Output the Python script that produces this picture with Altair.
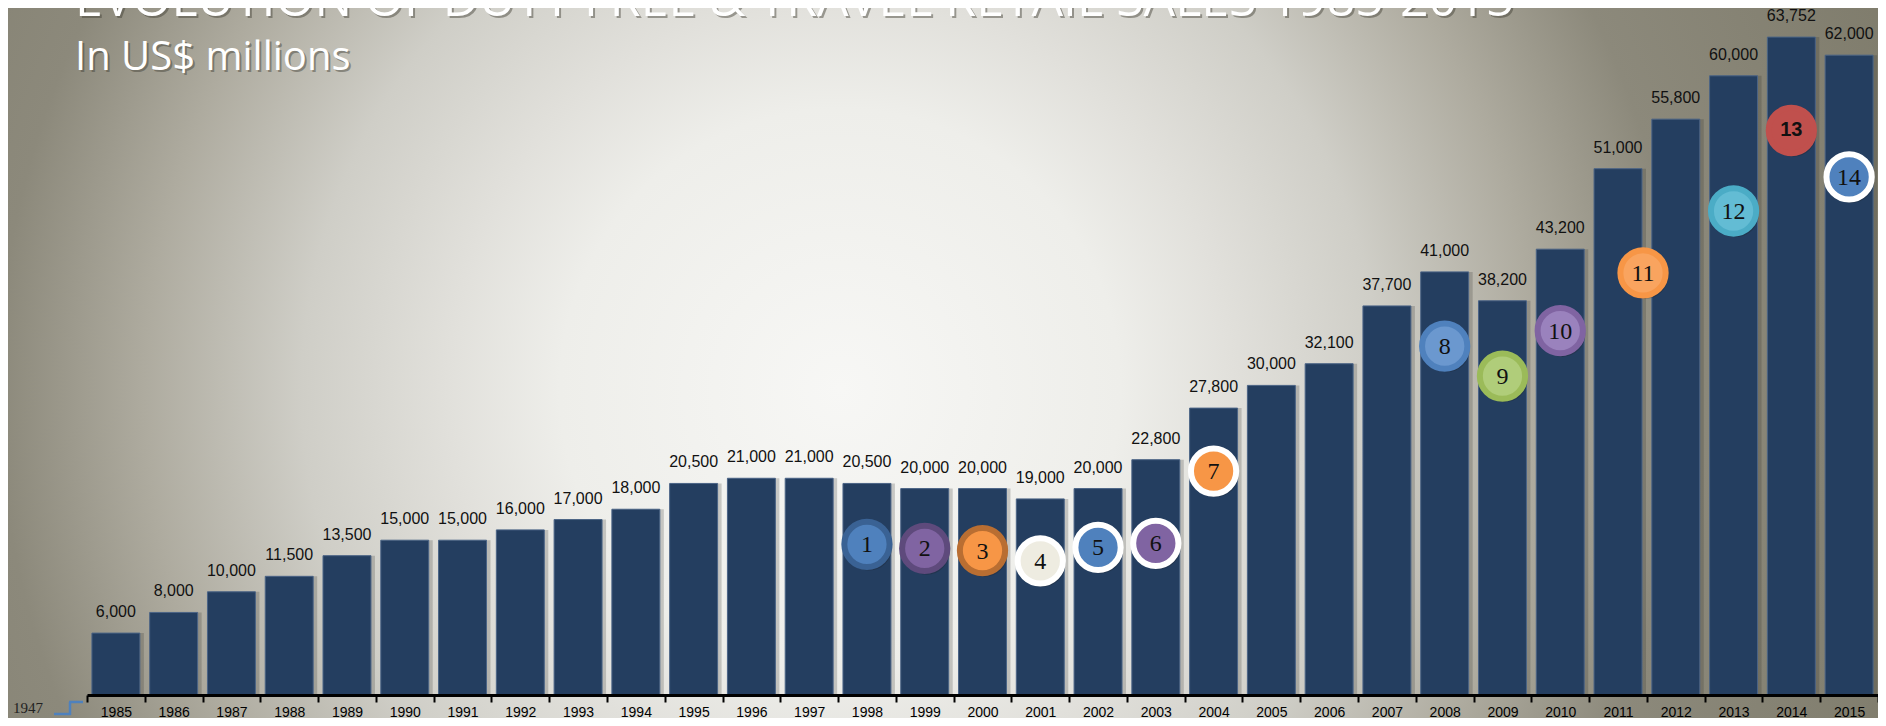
import altair as alt
import pandas as pd

# ---------------- data ----------------
years = [str(y) for y in range(1985, 2016)]
sales = [6000, 8000, 10000, 11500, 13500, 15000, 15000, 16000, 17000, 18000,
         20500, 21000, 21000, 20500, 20000, 20000, 19000, 20000, 22800, 27800,
         30000, 32100, 37700, 41000, 38200, 43200, 51000, 55800, 60000, 63752, 62000]

marker_ids = ["1", "2", "3", "4", "5", "6", "7", "8", "9", "10", "11", "12", "13", "14"]
marker_years = ["1998", "1999", "2000", "2001", "2002", "2003", "2004",
                "2008", "2009", "2010", "2011", "2013", "2014", "2015"]
marker_levels = [14600, 14200, 14000, 13000, 14300, 14700, 21700,
                 33800, 30900, 35300, 40900, 46900, 54700, 50200]

title_text = "EVOLUTION OF DUTY FREE & TRAVEL RETAIL SALES 1985-2015"
subtitle_text = "In US$ millions"
origin_text = "1947"

# ---------------- styles ----------------
marker_fills = ["#4f81bd", "#8064a2", "#f79646", "#eeece1", "#4f81bd", "#8064a2", "#f79646",
                "#6b98cf", "#b0cd7a", "#9a82bd", "#f9a45f", "#63bcd4", "#c0504d", "#4f81bd"]
marker_strokes = ["#3a6294", "#5e4a7c", "#b96e32", "#ffffff", "#ffffff", "#ffffff", "#ffffff",
                  "#4f81bd", "#9bbb59", "#8064a2", "#f79646", "#4bacc6", "#c0504d", "#ffffff"]
marker_widths = [6, 6, 6, 3, 3, 3, 3, 2.5, 2.5, 2.5, 2.5, 2.5, 0, 3]

W, H = 1791, 687
PAD_L, PAD_B = 79, 23
Y_MAX = 66570

bars_df = pd.DataFrame({"year": years, "sales": sales})
markers_df = pd.DataFrame({"year": marker_years, "level": marker_levels, "id": marker_ids})
one = pd.DataFrame({"k": [0]})

x_enc = alt.X("year:O", sort=years, title=None,
              scale=alt.Scale(paddingInner=0, paddingOuter=0),
              axis=alt.Axis(labelAngle=0, labelFont="Liberation Sans", labelFontSize=14,
                            labelColor="black", tickColor="black", tickWidth=2, tickSize=7,
                            domainColor="black", domainWidth=3, tickBand="extent",
                            labelPadding=3, grid=False, zindex=1))
y_scale = alt.Scale(domain=[0, Y_MAX])

# background radial gradient
bg_grad = {
    "gradient": "radial",
    "x1": 0.445, "y1": 0.514, "r1": 0,
    "x2": 0.445, "y2": 0.514, "r2": 0.6,
    "stops": [
        {"offset": 0.0, "color": "#f7f7f5"},
        {"offset": 0.25, "color": "#eeeeea"},
        {"offset": 0.35, "color": "#e1e0db"},
        {"offset": 0.48, "color": "#cfcec7"},
        {"offset": 0.62, "color": "#aeab9f"},
        {"offset": 0.75, "color": "#8c897b"},
        {"offset": 1.0, "color": "#7f7c6c"},
    ],
}
bg = alt.Chart(one).mark_rect(fill=bg_grad).encode(
    x=alt.value(-PAD_L), x2=alt.value(W), y=alt.value(0), y2=alt.value(H + PAD_B))

base = alt.Chart(bars_df)

shadow = base.mark_bar(color="#2f2e28", opacity=0.22, xOffset=4,
                       width=alt.RelativeBandSize(0.83)).encode(
    x=x_enc, y=alt.Y("sales:Q", scale=y_scale, axis=None))

bars = base.mark_bar(color="#243e60", stroke="#4b6486", strokeWidth=1,
                     width=alt.RelativeBandSize(0.83)).encode(
    x=x_enc, y=alt.Y("sales:Q", scale=y_scale, axis=None))

values = base.mark_text(dy=-16, baseline="alphabetic", font="Liberation Sans",
                        fontSize=16, color="#111111").encode(
    x=x_enc, y=alt.Y("sales:Q", scale=y_scale, axis=None),
    text=alt.Text("sales:Q", format=","))

mbase = alt.Chart(markers_df)
fill_enc = alt.Fill("id:N", scale=alt.Scale(domain=marker_ids, range=marker_fills), legend=None)
stroke_enc = alt.Stroke("id:N", scale=alt.Scale(domain=marker_ids, range=marker_strokes), legend=None)
sw_enc = alt.StrokeWidth("id:O", scale=alt.Scale(domain=marker_ids, range=marker_widths), legend=None)
my = alt.Y("level:Q", scale=y_scale, axis=None)

circ_shadow = mbase.mark_point(shape="circle", filled=True, size=2150, color="#1a1a1a",
                               opacity=0.25, xOffset=2, yOffset=3).encode(
    x=x_enc, y=my).transform_filter("datum.id != '11'")
circ_shadow11 = mbase.mark_point(shape="circle", filled=True, size=2150, color="#1a1a1a",
                                 opacity=0.25, xOffset=27, yOffset=3).encode(
    x=x_enc, y=my).transform_filter("datum.id == '11'")

circles = mbase.mark_point(shape="circle", filled=True, size=2050, opacity=1).encode(
    x=x_enc, y=my, fill=fill_enc, stroke=stroke_enc, strokeWidth=sw_enc
).transform_filter("datum.id != '11'")
circle11 = mbase.mark_point(shape="circle", filled=True, size=2050, opacity=1, xOffset=25).encode(
    x=x_enc, y=my, fill=fill_enc, stroke=stroke_enc, strokeWidth=sw_enc
).transform_filter("datum.id == '11'")

nums = mbase.mark_text(font="Liberation Serif", fontSize=24, color="#111111",
                       baseline="middle", dy=1).encode(
    x=x_enc, y=my, text="id:N").transform_filter("datum.id != '11' && datum.id != '13'")
num11 = mbase.mark_text(font="Liberation Serif", fontSize=24, color="#111111",
                        baseline="middle", dy=1, xOffset=25).encode(
    x=x_enc, y=my, text="id:N").transform_filter("datum.id == '11'")
num13 = mbase.mark_text(font="Liberation Sans", fontWeight="bold", fontSize=20,
                        color="#111111", baseline="middle").encode(
    x=x_enc, y=my, text="id:N").transform_filter("datum.id == '13'")

# titles
def txt(s, x, y, size, color, opacity=1.0, font="Open Sans"):
    return alt.Chart(one).mark_text(align="left", baseline="alphabetic", font=font,
                                    fontSize=size, color=color, opacity=opacity).encode(
        x=alt.value(x), y=alt.value(y), text=alt.value(s))

title_sh = txt(title_text, -10, 10, 50, "#3f3d33", 0.45)
title = txt(title_text, -12, 8, 50, "#ffffff")
sub_sh = txt(subtitle_text, -10, 64, 40, "#3f3d33", 0.45)
sub = txt(subtitle_text, -12, 62, 40, "#ffffff")
origin = txt(origin_text, -74, 705, 15, "#222222", 1.0, "Liberation Serif")

step_col = "#4f81bd"
step1 = alt.Chart(one).mark_rule(color=step_col, strokeWidth=2.5).encode(
    x=alt.value(-33), x2=alt.value(-16), y=alt.value(706))
step2 = alt.Chart(one).mark_rule(color=step_col, strokeWidth=2.5).encode(
    x=alt.value(-17), y=alt.value(694), y2=alt.value(707))
step3 = alt.Chart(one).mark_rule(color=step_col, strokeWidth=2.5).encode(
    x=alt.value(-18), x2=alt.value(-4), y=alt.value(694))

chart = alt.layer(
    bg, shadow, bars, values, circ_shadow, circ_shadow11, circles, circle11, nums, num11, num13,
    title_sh, title, sub_sh, sub, origin, step1, step2, step3
).properties(
    width=W, height=H,
    padding={"left": PAD_L, "top": 0, "right": 0, "bottom": PAD_B},
    autosize=alt.AutoSizeParams(type="none"),
).configure_view(stroke=None).configure(font="Liberation Sans")

chart.save("out.html", embed_options={"renderer": "svg", "actions": False})
